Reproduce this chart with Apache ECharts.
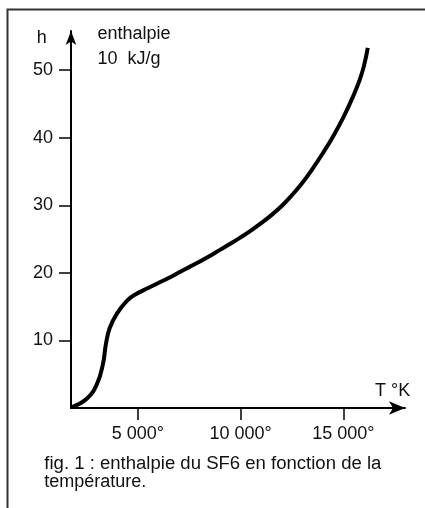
<!DOCTYPE html>
<html>
<head>
<meta charset="utf-8">
<script src="https://cdn.jsdelivr.net/npm/echarts@6/dist/echarts.min.js"></script>
<style>
  html, body { margin: 0; padding: 0; background: #fff; }
  #chart { width: 425px; height: 508px; }
</style>
</head>
<body>
<div id="chart"></div>
<script>
// Temperature (K) and enthalpy h (kJ/g)
const temps = [1770, 2530, 3020, 3310, 3450, 3630, 3990, 4480, 4880, 5500, 6000, 6500, 7000, 7500, 8000, 8500, 9000, 9500, 10000, 10500, 11000, 11500, 12000, 12500, 13000, 13500, 14000, 14500, 15000, 15500, 15800, 16000, 16190];
const enthalpy = [0.1, 1.4, 3.6, 6.6, 9.5, 11.8, 14.0, 15.9, 16.8, 17.75, 18.5, 19.25, 20.05, 20.85, 21.65, 22.5, 23.4, 24.3, 25.25, 26.25, 27.35, 28.55, 29.9, 31.5, 33.3, 35.4, 37.7, 40.2, 43.0, 46.3, 48.6, 50.6, 53.3];
const xTicks = [5000, 10000, 15000];
const yTicks = [10, 20, 30, 40, 50];

const FONT = 'Liberation Sans';
const INK = '#111';

const chart = echarts.init(document.getElementById('chart'));

chart.setOption({
  animation: false,
  backgroundColor: '#fff',
  grid: { left: 71, right: 20, top: 31, bottom: 100 },
  xAxis: {
    type: 'value',
    min: 1750,
    max: 18000,
    splitLine: { show: false },
    axisLine: {
      lineStyle: { color: '#000', width: 2 },
      symbol: ['none', 'arrow'],
      symbolSize: [10, 16]
    },
    axisTick: { customValues: xTicks, length: 12, lineStyle: { color: '#000', width: 1.5 } },
    axisLabel: {
      customValues: xTicks,
      margin: 17,
      fontFamily: FONT,
      fontSize: 18,
      color: INK,
      formatter: v => (v / 1000) + ' 000°'
    }
  },
  yAxis: {
    type: 'value',
    min: 0,
    max: 55.8,
    splitLine: { show: false },
    axisLine: {
      lineStyle: { color: '#000', width: 2 },
      symbol: ['none', 'arrow'],
      symbolSize: [8, 14]
    },
    axisTick: { customValues: yTicks, length: 12, lineStyle: { color: '#000', width: 1.5 } },
    axisLabel: {
      customValues: yTicks,
      margin: 18,
      fontFamily: FONT,
      fontSize: 18,
      color: INK
    }
  },
  series: [{
    type: 'line',
    data: temps.map((t, i) => [t, enthalpy[i]]),
    smooth: 0.45,
    showSymbol: false,
    lineStyle: { color: '#000', width: 4, cap: 'butt' }
  }],
  graphic: [
    // frame of the figure (top and left edges)
    { type: 'polyline', shape: { points: [[7.5, 508], [7.5, 9.5], [425, 9.5]] }, style: { stroke: '#333', lineWidth: 2, fill: null } },
    { type: 'text', x: 41.7, y: 37.7, style: { text: 'h', font: '18px ' + FONT, fill: INK, align: 'center', verticalAlign: 'middle' } },
    { type: 'text', x: 97.5, y: 34, style: { text: 'enthalpie', font: '18px ' + FONT, fill: INK, verticalAlign: 'middle' } },
    { type: 'text', x: 97.5, y: 59, style: { text: '10  kJ/g', font: '18px ' + FONT, fill: INK, verticalAlign: 'middle' } },
    { type: 'text', x: 375, y: 391, style: { text: 'T °K', font: '18px ' + FONT, fill: INK, verticalAlign: 'middle' } },
    { type: 'text', x: 44.3, y: 464.5, scaleX: 1.03, style: { text: 'fig. 1 : enthalpie du SF6 en fonction de la', font: '18px ' + FONT, fill: INK, verticalAlign: 'middle' } },
    { type: 'text', x: 44.3, y: 482, style: { text: 'température.', font: '18px ' + FONT, fill: INK, verticalAlign: 'middle' } }
  ]
});
</script>
</body>
</html>
